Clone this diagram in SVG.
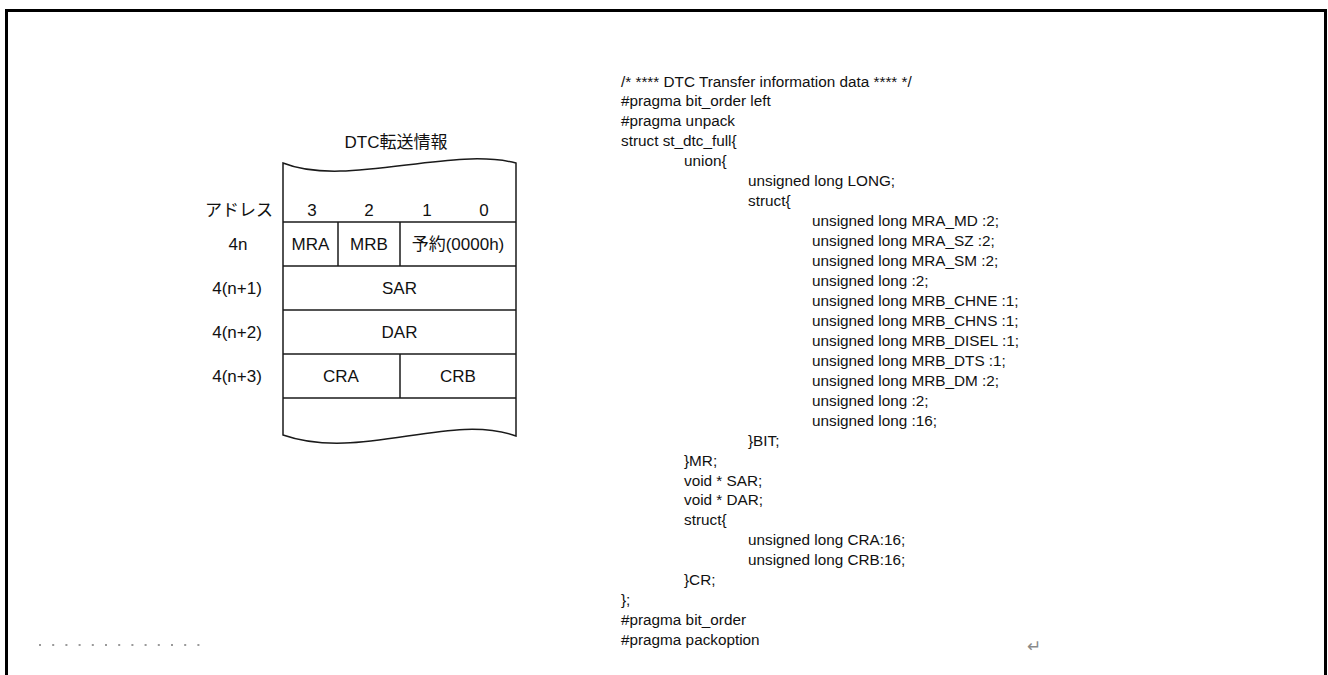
<svg xmlns="http://www.w3.org/2000/svg" width="1328" height="675" viewBox="0 0 1328 675">
<style>
.d{font-family:"Liberation Sans","Noto Sans CJK JP",sans-serif;font-size:17px;fill:#111;text-anchor:middle}
.c{font-family:"Liberation Sans","Noto Sans CJK JP",sans-serif;font-size:15.3px;fill:#111}
.ln{stroke:#1a1a1a;stroke-width:1.5;fill:none}
</style>
<rect x="6.5" y="10.5" width="1319" height="690" fill="#fff" stroke="#000" stroke-width="3"/>
<g id="title"><text class="d" x="396" y="148">DTC転送情報</text></g>
<g id="frame">
<path class="ln" d="M283,163 C345,188 450,146 516,163 L516,436 C450,412 360,462 283,435 Z"/>
<line class="ln" x1="283" y1="222" x2="516" y2="222"/>
<line class="ln" x1="283" y1="266" x2="516" y2="266"/>
<line class="ln" x1="283" y1="310" x2="516" y2="310"/>
<line class="ln" x1="283" y1="354" x2="516" y2="354"/>
<line class="ln" x1="283" y1="398" x2="516" y2="398"/>
<line class="ln" x1="338" y1="222" x2="338" y2="266"/>
<line class="ln" x1="400" y1="222" x2="400" y2="266"/>
<line class="ln" x1="400" y1="354" x2="400" y2="398"/>
</g>
<g id="header">
<text class="d" x="239" y="216">アドレス</text>
<text class="d" x="312" y="216">3</text>
<text class="d" x="369" y="216">2</text>
<text class="d" x="427" y="216">1</text>
<text class="d" x="484" y="216">0</text>
</g>
<g id="row-4n">
<text class="d" x="238" y="250">4n</text>
<text class="d" x="310.5" y="250">MRA</text>
<text class="d" x="369" y="250">MRB</text>
<text class="d" x="458" y="250">予約(0000h)</text>
</g>
<g id="row-sar">
<text class="d" x="237" y="294">4(n+1)</text>
<text class="d" x="399.5" y="294">SAR</text>
</g>
<g id="row-dar">
<text class="d" x="237" y="338">4(n+2)</text>
<text class="d" x="399.5" y="338">DAR</text>
</g>
<g id="row-cr">
<text class="d" x="237" y="382">4(n+3)</text>
<text class="d" x="341" y="382">CRA</text>
<text class="d" x="458" y="382">CRB</text>
</g>
<g id="code">
<text class="c" x="621" y="86.5">/* **** DTC Transfer information data **** */</text>
<text class="c" x="621" y="106.4">#pragma bit_order left</text>
<text class="c" x="621" y="126.4">#pragma unpack</text>
<text class="c" x="621" y="146.3">struct st_dtc_full{</text>
<text class="c" x="684" y="166.3">union{</text>
<text class="c" x="748" y="186.2">unsigned long LONG;</text>
<text class="c" x="748" y="206.2">struct{</text>
<text class="c" x="812" y="226.1">unsigned long MRA_MD :2;</text>
<text class="c" x="812" y="246.1">unsigned long MRA_SZ :2;</text>
<text class="c" x="812" y="266">unsigned long MRA_SM :2;</text>
<text class="c" x="812" y="286">unsigned long :2;</text>
<text class="c" x="812" y="305.9">unsigned long MRB_CHNE :1;</text>
<text class="c" x="812" y="325.9">unsigned long MRB_CHNS :1;</text>
<text class="c" x="812" y="345.8">unsigned long MRB_DISEL :1;</text>
<text class="c" x="812" y="365.8">unsigned long MRB_DTS :1;</text>
<text class="c" x="812" y="385.7">unsigned long MRB_DM :2;</text>
<text class="c" x="812" y="405.7">unsigned long :2;</text>
<text class="c" x="812" y="425.6">unsigned long :16;</text>
<text class="c" x="748" y="445.6">}BIT;</text>
<text class="c" x="684" y="465.5">}MR;</text>
<text class="c" x="684" y="485.5">void * SAR;</text>
<text class="c" x="684" y="505.4">void * DAR;</text>
<text class="c" x="684" y="525.4">struct{</text>
<text class="c" x="748" y="545.3">unsigned long CRA:16;</text>
<text class="c" x="748" y="565.3">unsigned long CRB:16;</text>
<text class="c" x="684" y="585.2">}CR;</text>
<text class="c" x="621" y="605.2">};</text>
<text class="c" x="621" y="625.1">#pragma bit_order</text>
<text class="c" x="621" y="645.1">#pragma packoption</text>
</g>
<line x1="39" y1="645" x2="200" y2="645" stroke="#9a9a9a" stroke-width="2" stroke-dasharray="2 11.2"/>
<text x="1027" y="652" font-family="DejaVu Sans,sans-serif" font-size="17" fill="#8a8a8a">↵</text>
</svg>
